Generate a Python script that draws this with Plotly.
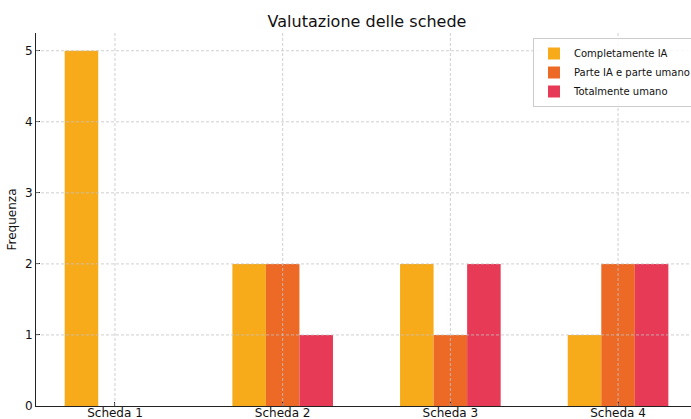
import plotly.graph_objects as go

categories = ["Scheda 1", "Scheda 2", "Scheda 3", "Scheda 4"]
series_names = ["Completamente IA", "Parte IA e parte umano", "Totalmente umano"]
completamente_ia = [5, 2, 2, 1]
parte_ia_umano = [0, 2, 1, 2]
totalmente_umano = [0, 1, 2, 2]
y_ticks = [0, 1, 2, 3, 4, 5]

colors = ["#F7AB1B", "#EC6A26", "#E63A56"]
values = [completamente_ia, parte_ia_umano, totalmente_umano]

W, H = 691, 419
ML, MR, MT, MB = 36, 0, 33, 13

fig = go.Figure()
bar_w = 0.2
for k, (name, vals, col) in enumerate(zip(series_names, values, colors)):
    fig.add_trace(go.Bar(
        x=list(range(len(categories))), y=vals, name=name,
        width=bar_w, offset=(k - 1) * bar_w - bar_w / 2,
        marker=dict(color=col, line=dict(width=0)),
    ))

x_range = [-0.471, 3.435]
y_range = [0, 5.25]

grid_line = dict(color="#c4c4c4", width=0.8, dash="3px,2px")
shapes = []
for v in y_ticks[1:]:
    shapes.append(dict(type="line", xref="paper", yref="y", x0=0, x1=1, y0=v, y1=v,
                       line=grid_line, layer="above"))
for i in range(len(categories)):
    shapes.append(dict(type="line", xref="x", yref="paper", x0=i, x1=i, y0=0, y1=1,
                       line=grid_line, layer="above"))

fig.update_layout(
    width=W, height=H,
    margin=dict(l=ML, r=MR, t=MT, b=MB, autoexpand=False),
    barmode="overlay",
    plot_bgcolor="white", paper_bgcolor="white",
    font=dict(family="DejaVu Sans", color="#222"),
    title=dict(text="Valutazione delle schede", x=(367 - ML) / (W - ML - MR), xref="paper",
               yref="container", y=1 - 16 / H, yanchor="top", xanchor="center",
               font=dict(size=16, color="#111")),
    shapes=shapes,
    legend=dict(x=(533 - ML) / (W - ML - MR), y=(406 - 38) / (406 - 33), xanchor="left", yanchor="top",
                bordercolor="#cccccc", borderwidth=1, bgcolor="rgba(255,255,255,0.85)",
                font=dict(size=10, color="#111"), tracegroupgap=0, itemwidth=30),
    showlegend=True,
)
fig.update_xaxes(range=x_range, tickvals=list(range(len(categories))), ticktext=categories,
                 showgrid=False, zeroline=False, showline=True, linecolor="#222", linewidth=1,
                 ticks="inside", ticklen=4, tickcolor="#222", tickfont=dict(size=12, color="#111"),
                 ticklabelstandoff=-4, automargin=False)
fig.update_yaxes(range=y_range, tickvals=y_ticks, showgrid=False, zeroline=False,
                 showline=True, linecolor="#222", linewidth=1,
                 ticks="inside", ticklen=4, tickcolor="#222", tickfont=dict(size=12, color="#111"),
                 title=dict(text="Frequenza", font=dict(size=12, color="#111"), standoff=5),
                 automargin=False)

fig.write_html("out.html", config={"displayModeBar": False},
               post_script="document.body.style.margin='0';document.body.style.overflow='hidden';")
